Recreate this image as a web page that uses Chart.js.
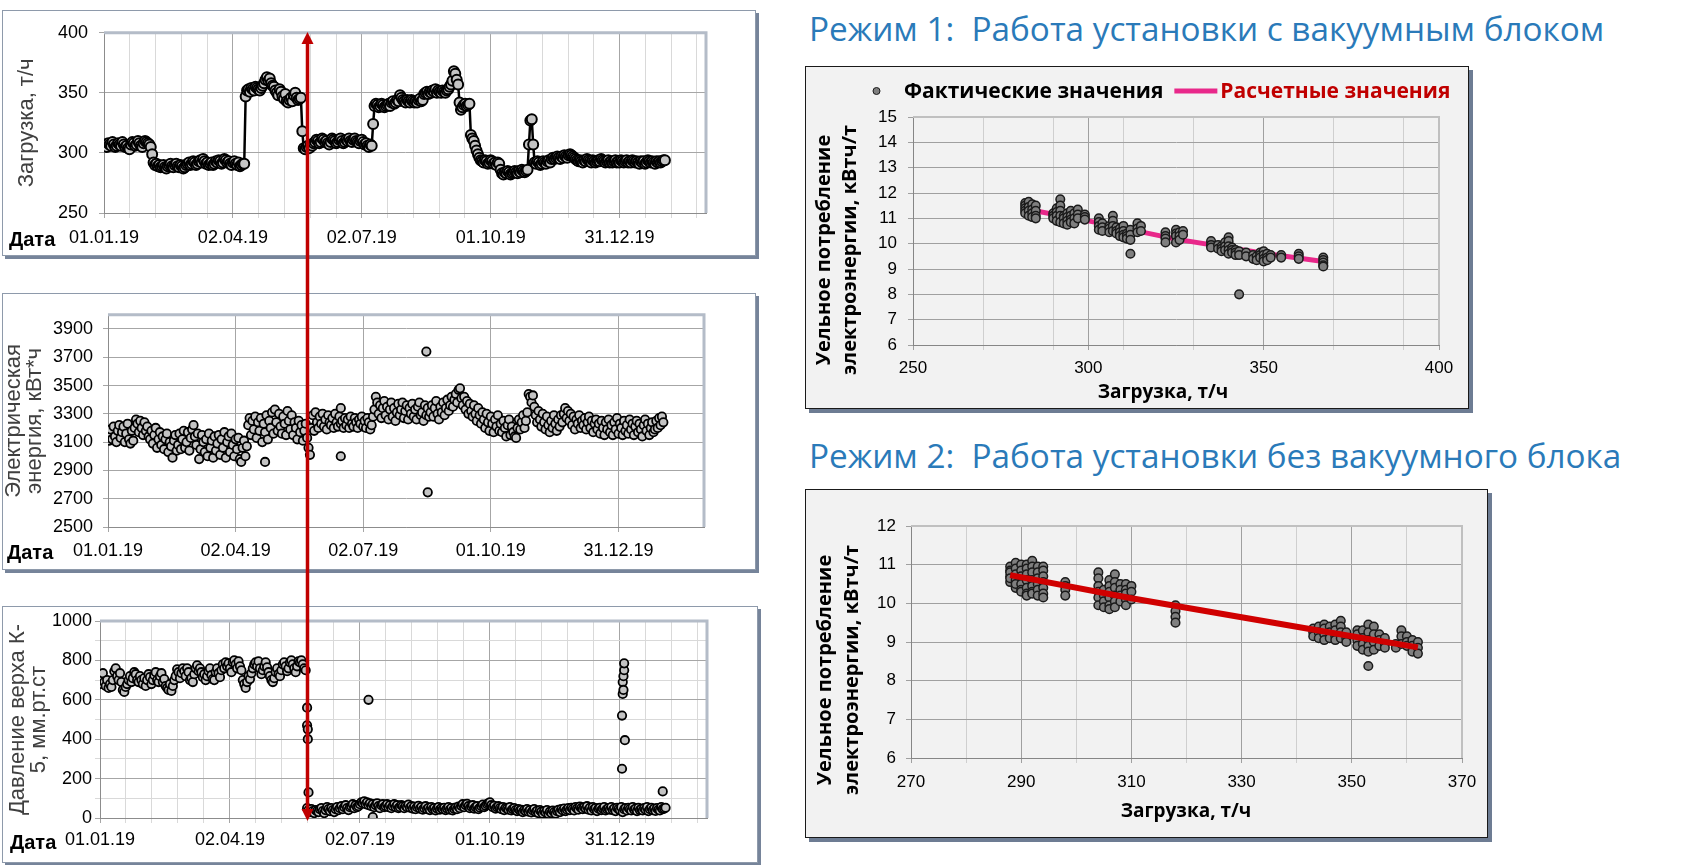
<!DOCTYPE html>
<html>
<head>
<meta charset="utf-8">
<script src="https://cdn.jsdelivr.net/npm/chart.js"></script>
<style>
  body { margin: 0; width: 1701px; height: 865px; background: #fff; position: relative; overflow: hidden; }
  .frame { position: absolute; box-sizing: border-box; }
  .frame div { position: relative; width: 100%; height: 100%; }
  .left { background: #fff; border: 1px solid #8e9aab; box-shadow: 3px 3px 0 #76849a; }
  .right { background: #f2f2f2; border: 1px solid #1a1a1a; box-shadow: 4px 4px 0 #6d7c93; }
  .title { position: absolute; left: 809px; font: 33.3px "Open Sans", sans-serif; color: #2a7ab9; white-space: pre; line-height: 1; }
  svg { position: absolute; left: 0; top: 0; pointer-events: none; }
</style>
</head>
<body>
<div class="frame left" style="left:2px;top:10px;width:754px;height:246px"><div><canvas id="loadChart"></canvas></div></div>
<div class="frame left" style="left:2px;top:293px;width:754px;height:277px"><div><canvas id="energyChart"></canvas></div></div>
<div class="frame left" style="left:2px;top:606px;width:756px;height:257px"><div><canvas id="pressureChart"></canvas></div></div>

<div class="title" style="top:12px">Режим 1:  Работа установки с вакуумным блоком</div>
<div class="frame right" style="left:805px;top:66px;width:664px;height:343px"><div><canvas id="mode1Chart"></canvas></div></div>
<div class="title" style="top:439px">Режим 2:  Работа установки без вакуумного блока</div>
<div class="frame right" style="left:805px;top:489px;width:683px;height:349px"><div><canvas id="mode2Chart"></canvas></div></div>

<svg width="1701" height="865">
  <line x1="307.5" y1="42" x2="307.5" y2="811" stroke="#c00000" stroke-width="3.5"/>
  <polygon points="301.5,44 313.5,44 307.5,32" fill="#c00000"/>
  <polygon points="301.5,809 313.5,809 307.5,821" fill="#c00000"/>
</svg>

<script>
// daily series start on 01.01.19; x is the day number
const dateTickDays = [0, 91, 182, 273, 364];
const dateTickLabels = ['01.01.19', '02.04.19', '02.07.19', '01.10.19', '31.12.19'];
const dateMax = 425;

// Загрузка, т/ч (one value per day)
const loadValues = [
  306, 307, 305, 308, 307, 306, 309, 307, 305, 306,
  308, 307, 306, 309, 307, 305, 306, 304, 303, 307,
  309, 308, 306, 307, 310, 308, 306, 305, 308, 310,
  309, 308, 307, 305, 299, 292, 290, 291, 289, 290,
  288, 289, 290, 288, 287, 289, 290, 291, 289, 288,
  290, 291, 289, 288, 290, 289, 287, 288, 290, 291,
  292, 290, 291, 293, 292, 290, 291, 293, 294, 292,
  295, 293, 291, 292, 290, 291, 292, 290, 291, 293,
  292, 294, 293, 291, 292, 295, 294, 292, 293, 291,
  290, 292, 293, 291, 290, 292, 289, 290, 291, 291,
  347, 352, 353, 351, 354, 353, 352, 355, 354, 353,
  352, 354, 356, 358, 361, 363, 360, 362, 358, 356,
  355, 352, 350, 348, 353, 351, 347, 345, 349, 343,
  342, 344, 346, 343, 348, 350, 346, 344, 345, 346,
  318, 304, 303, 305, 306, 304, 307, 306, 308, 309,
  311, 310, 308, 309, 312, 311, 309, 310, 308, 307,
  309, 312, 311, 310, 308, 309, 311, 312, 310, 308,
  309, 311, 310, 312, 310, 309, 311, 312, 310, 309,
  308, 310, 311, 309, 307, 308, 306, 305, 307, 306,
  324, 339, 341, 340, 338, 339, 341, 340, 338, 339,
  340, 341, 339, 342, 343, 341, 342, 344, 343, 348,
  346, 344, 343, 342, 344, 343, 342, 344, 343, 342,
  343, 342, 344, 345, 343, 344, 349, 350, 351, 349,
  351, 350, 352, 351, 353, 350, 352, 351, 350, 352,
  351, 350, 352, 353, 355, 357, 360, 368, 366, 361,
  357, 342, 336, 338, 340, 341, 339, 340, 341, 315,
  312, 310, 306, 302, 299, 296, 294, 293, 292, 294,
  293, 291, 292, 294, 293, 291, 292, 290, 292, 291,
  286, 283, 282, 284, 283, 285, 284, 282, 283, 284,
  285, 284, 283, 285, 284, 286, 285, 284, 285, 286,
  307, 327, 328, 307, 292, 291, 293, 292, 290, 291,
  293, 292, 291, 293, 294, 292, 295, 296, 295, 296,
  297, 296, 295, 297, 296, 298, 297, 296, 298, 299,
  298, 297, 296, 295, 294, 293, 294, 293, 292, 294,
  293, 295, 294, 293, 292, 294, 293, 292, 293, 294,
  293, 295, 294, 293, 292, 293, 294, 292, 293, 292,
  293, 294, 292, 293, 292, 294, 293, 292, 293, 294,
  292, 293, 292, 294, 293, 292, 293, 292, 291, 293,
  292, 293, 291, 292, 294, 293, 292, 293, 292, 291,
  293, 292, 293, 292, 293, 294, 294
];

// Электрическая энергия, кВт*ч (one value per day) and the stray readings
const energyValues = [
  3150, 3110, 3190, 3120, 3210, 3140, 3100, 3180, 3220, 3130,
  3170, 3210, 3100, 3160, 3230, 3120, 3090, 3180, 3110, 3200,
  3260, 3230, 3170, 3250, 3200, 3150, 3240, 3180, 3210, 3140,
  3120, 3180, 3090, 3150, 3200, 3060, 3120, 3170, 3080, 3140,
  3050, 3120, 3160, 3030, 3100, 3070, 2990, 3110, 3150, 3040,
  3080, 3160, 3050, 3120, 3180, 3060, 3100, 3170, 3040, 3130,
  3190, 3220, 3140, 3080, 3160, 2980, 3050, 3150, 3100, 3030,
  3120, 3000, 3160, 3060, 3110, 2990, 3140, 3040, 3090, 3150,
  3010, 3120, 3060, 3170, 2990, 3100, 3140, 3030, 3160, 3080,
  3000, 3120, 3050, 3130, 2980, 2960, 3060, 3110, 3000, 3070,
  3220, 3270, 3150, 3250, 3190, 3280, 3130, 3240, 3180, 3270,
  3100, 3230, 3170, 3290, 3120, 3250, 3200, 3310, 3160, 3330,
  3240, 3180, 3300, 3210, 3160, 3280, 3230, 3150, 3320, 3250,
  3190, 3290, 3150, 3240, 3200, 3120, 3250, 3170, 3220, 3110,
  3180, 3230, 3130, 3060, 3010, 3200, 3290, 3180, 3310, 3240,
  3200, 3280, 3230, 3300, 3210, 3260, 3190, 3290, 3240, 3220,
  3270, 3200, 3300, 3240, 3210, 3280, 3230, 3250, 3200, 3270,
  3220, 3260, 3200, 3280, 3230, 3210, 3270, 3240, 3200, 3260,
  3230, 3280, 3210, 3250, 3200, 3270, 3240, 3190, 3220, 3280,
  3330, 3420, 3380, 3300, 3360, 3270, 3340, 3390, 3290, 3350,
  3260, 3330, 3380, 3280, 3340, 3250, 3310, 3370, 3290, 3330,
  3380, 3270, 3320, 3360, 3260, 3340, 3300, 3370, 3280, 3330,
  3260, 3350, 3380, 3290, 3310, 3250, 3360, 3290, 3340, 3280,
  3310, 3360, 3280, 3340, 3390, 3300, 3260, 3350, 3310, 3380,
  3290, 3340, 3400, 3320, 3360, 3420, 3350, 3400, 3440, 3380,
  3470, 3480, 3410, 3360, 3420, 3330, 3390, 3300, 3370, 3320,
  3280, 3360, 3300, 3250, 3340, 3290, 3230, 3310, 3260, 3200,
  3300, 3240, 3180, 3280, 3230, 3170, 3260, 3210, 3290, 3180,
  3230, 3170, 3250, 3200, 3140, 3220, 3260, 3150, 3210, 3170,
  3140, 3130, 3200, 3260, 3190, 3240, 3290, 3200, 3250, 3310,
  3440, 3420, 3380, 3430, 3350, 3290, 3240, 3320, 3260, 3210,
  3300, 3240, 3190, 3280, 3220, 3170, 3250, 3200, 3290, 3230,
  3180, 3260, 3210, 3290, 3240, 3300, 3340, 3270, 3320, 3250,
  3300, 3220, 3280, 3190, 3260, 3230, 3290, 3200, 3250, 3220,
  3270, 3190, 3240, 3280, 3200, 3250, 3170, 3230, 3260, 3190,
  3230, 3160, 3250, 3200, 3150, 3240, 3190, 3260, 3170, 3220,
  3150, 3240, 3190, 3270, 3160, 3230, 3200, 3150, 3250, 3180,
  3220, 3160, 3260, 3190, 3230, 3150, 3210, 3250, 3170, 3230,
  3190, 3140, 3220, 3260, 3180, 3230, 3150, 3200, 3240, 3170,
  3190, 3250, 3200, 3270, 3220, 3280, 3240
];
const energyExtraDays = [112, 166, 166, 227, 228];
const energyExtraValues = [2960, 3340, 3000, 3740, 2745];

// Давление верха К-5, мм.рт.ст (one value per day) and the stray readings
const pressureValues = [
  680, 720, 735, 690, 670, 700, 660, 680, 665, 700,
  745, 760, 720, 700, 735, 690, 650, 640, 665, 680,
  700, 720, 690, 710, 740, 730, 700, 690, 720, 700,
  680, 710, 670, 700, 730, 715, 680, 700, 725, 740,
  700, 690, 720, 735, 690, 705, 670, 660, 650, 680,
  645, 670, 700, 720, 755, 740, 710, 735, 760, 745,
  720, 760, 740, 700, 710, 690, 730, 760, 775, 745,
  760, 740, 715, 730, 700, 720, 745, 760, 725, 705,
  700, 740, 760, 735, 715, 750, 780, 760, 790, 770,
  785, 760, 740, 790, 800, 780, 760, 795, 770, 750,
  700, 680, 660, 690, 720, 705, 735, 760, 780, 790,
  770, 795, 760, 730, 750, 770, 790, 765, 740, 720,
  700, 690, 710, 740, 760, 730, 720, 750, 780, 790,
  770, 745, 760, 790, 800, 780, 760, 740, 770, 795,
  790, 800, 780, 760, 750, 50, 40, 30, 45, 35,
  25, 40, 35, 30, 45, 50, 35, 25, 40, 55,
  45, 35, 50, 40, 30, 45, 55, 40, 50, 60,
  45, 55, 65, 50, 40, 55, 60, 70, 50, 65,
  55, 60, 70, 80, 75, 85, 70, 80, 65, 75,
  60, 70, 55, 65, 75, 60, 50, 65, 70, 55,
  60, 70, 55, 65, 50, 60, 70, 55, 65, 50,
  55, 65, 60, 50, 62, 55, 68, 52, 60, 48,
  58, 45, 55, 62, 48, 56, 42, 50, 60, 45,
  52, 40, 55, 45, 50, 38, 48, 55, 42, 50,
  45, 52, 40, 48, 55, 42, 50, 38, 46, 53,
  45, 58, 50, 62, 70, 55, 65, 72, 60, 50,
  58, 65, 48, 55, 60, 45, 52, 60, 68, 55,
  62, 70, 75, 80, 65, 55, 62, 48, 55, 60,
  50, 45, 55, 40, 52, 48, 42, 55, 38, 45,
  50, 40, 35, 45, 38, 42, 30, 40, 35, 45,
  32, 40, 28, 38, 45, 30, 36, 25, 40, 32,
  22, 35, 28, 40, 20, 32, 25, 38, 30, 22,
  35, 42, 30, 45, 38, 48, 35, 42, 50, 40,
  52, 45, 38, 55, 48, 42, 58, 50, 45, 55,
  48, 60, 42, 52, 38, 55, 45, 50, 35, 48,
  52, 40, 48, 55, 38, 45, 50, 42, 55, 40,
  48, 35, 52, 45, 40, 55, 30, 45, 50, 38,
  52, 45, 38, 55, 42, 48, 35, 52, 40, 46,
  38, 50, 42, 55, 35, 45, 52, 40, 48, 36,
  50, 42, 38, 55, 45, 48, 52
];
const pressureExtraDays = [145, 145, 145.5, 145.5, 146, 188, 191,
  365.5, 365.5, 366, 366, 366.5, 366.5, 367, 367, 367.5, 394];
const pressureExtraValues = [560, 470, 450, 400, 130, 600, 5,
  250, 520, 630, 690, 650, 720, 750, 785, 395, 135];

// Режим 1: загрузка, т/ч -> удельное потребление, кВтч/т
const mode1Load = [
  282, 282, 282, 282, 282,
  283, 283, 283, 283,
  284, 284, 284, 284,
  285, 285, 285, 285,
  290, 290, 290,
  291, 291, 291, 291,
  292, 292, 292, 292, 292,
  293, 293, 293,
  294, 294, 294, 294,
  295, 295, 295, 295,
  296, 296, 296,
  297, 297, 297,
  299, 299, 299,
  303, 303, 303, 303,
  304, 304, 304,
  306, 306, 306,
  307, 307, 307, 307,
  308, 308, 308,
  309, 309, 309,
  310, 310, 310, 310,
  311, 311, 311,
  312, 312, 312, 312,
  314, 314, 314,
  315, 315,
  322, 322, 322, 322,
  325, 325, 325, 325,
  326, 326, 326,
  327, 327,
  335, 335, 335,
  337, 337,
  338, 338, 338,
  339, 339, 339,
  340, 340, 340, 340, 340,
  341, 341, 341,
  342, 342, 342,
  343, 343, 343,
  345, 345,
  347, 347,
  348, 348,
  349, 349, 349,
  350, 350, 350, 350,
  351, 351, 351,
  352, 352,
  355, 355,
  360, 360, 360,
  367, 367, 367, 367, 367
];
const mode1Specific = [
  11.6, 11.5, 11.4, 11.3, 11.2,
  11.65, 11.45, 11.3, 11.1,
  11.55, 11.35, 11.2, 11.05,
  11.5, 11.3, 11.1, 11.0,
  11.2, 11.1, 11.0,
  11.4, 11.25, 11.1, 10.9,
  11.75, 11.5, 11.3, 11.1, 10.85,
  11.1, 11.0, 10.8,
  11.2, 11.05, 10.9, 10.75,
  11.3, 11.1, 10.95, 10.85,
  11.2, 11.0, 10.8,
  11.35, 11.15, 11.0,
  11.15, 11.05, 10.95,
  11.0, 10.85, 10.7, 10.55,
  10.8, 10.65, 10.5,
  10.7, 10.6, 10.45,
  11.1, 10.9, 10.7, 10.5,
  10.65, 10.5, 10.4,
  10.6, 10.45, 10.3,
  10.7, 10.5, 10.35, 10.25,
  10.4, 10.3, 10.2,
  10.55, 10.35, 10.15, 9.6,
  10.8, 10.6, 10.45,
  10.7, 10.5,
  10.45, 10.3, 10.2, 10.05,
  10.55, 10.4, 10.3, 10.05,
  10.45, 10.3, 10.15,
  10.5, 10.35,
  10.1, 9.95, 9.85,
  9.95, 9.8,
  9.9, 9.8, 9.7,
  10.05, 9.9, 9.75,
  10.25, 10.1, 9.9, 9.75, 9.6,
  9.85, 9.75, 9.65,
  9.75, 9.65, 9.55,
  9.7, 9.55, 8.0,
  9.65, 9.5,
  9.55, 9.4,
  9.5, 9.35,
  9.65, 9.55, 9.45,
  9.7, 9.55, 9.4, 9.3,
  9.6, 9.45, 9.35,
  9.55, 9.45,
  9.55, 9.45,
  9.6, 9.5, 9.4,
  9.45, 9.35, 9.25, 9.15, 9.1
];
const mode1FitLoad = [284, 300, 325, 350, 367];
const mode1FitValues = [11.32, 10.9, 10.18, 9.62, 9.3];

// Режим 2
const mode2Load = [
  288, 288, 288, 288, 288, 288,
  289, 289, 289, 289, 289, 289,
  290, 290, 290, 290, 290, 290,
  291, 291, 291, 291, 291, 291, 291,
  292, 292, 292, 292, 292, 292, 292,
  293, 293, 293, 293, 293, 293,
  294, 294, 294, 294, 294, 294, 294,
  298, 298, 298, 298,
  304, 304, 304, 304, 304, 304,
  305, 305, 305, 305,
  306, 306, 306, 306, 306, 306,
  307, 307, 307, 307, 307, 307,
  308, 308, 308, 308,
  309, 309, 309, 309, 309,
  310, 310, 310,
  318, 318, 318, 318,
  343, 343, 343,
  344, 344, 344,
  345, 345, 345, 345,
  346, 346, 346,
  347, 347, 347, 347,
  348, 348, 348, 348,
  349, 349, 349,
  351, 351, 351, 351,
  352, 352, 352, 352,
  353, 353, 353, 353, 353, 353,
  354, 354, 354, 354,
  355, 355, 355,
  356, 356, 356,
  358, 358,
  359, 359, 359,
  360, 360, 360,
  361, 361, 361,
  362, 362, 362
];
const mode2Specific = [
  10.95, 10.85, 10.7, 10.55, 10.8, 10.65,
  11.05, 10.9, 10.75, 10.6, 10.4, 10.5,
  11.0, 10.85, 10.7, 10.5, 10.35, 10.3,
  11.0, 10.9, 10.75, 10.6, 10.4, 10.25, 10.2,
  11.1, 10.95, 10.8, 10.6, 10.45, 10.3, 10.25,
  10.95, 10.8, 10.65, 10.5, 10.35, 10.2,
  10.95, 10.85, 10.7, 10.55, 10.4, 10.25, 10.15,
  10.55, 10.45, 10.35, 10.2,
  10.8, 10.65, 10.45, 10.3, 10.15, 9.95,
  10.35, 10.2, 10.05, 9.9,
  10.6, 10.45, 10.3, 10.15, 9.95, 9.85,
  10.75, 10.55, 10.4, 10.2, 10.05, 9.9,
  10.5, 10.35, 10.2, 10.05,
  10.5, 10.35, 10.25, 10.1, 9.95,
  10.45, 10.3, 10.1,
  9.95, 9.8, 9.65, 9.5,
  9.35, 9.25, 9.15,
  9.4, 9.25, 9.1,
  9.45, 9.35, 9.2, 9.05,
  9.4, 9.25, 9.1,
  9.45, 9.3, 9.15, 9.05,
  9.55, 9.4, 9.25, 9.1,
  9.25, 9.1, 9.0,
  9.3, 9.2, 9.05, 8.9,
  9.3, 9.1, 8.95, 8.8,
  9.45, 9.25, 9.05, 8.9, 8.75, 8.38,
  9.4, 9.2, 9.0, 8.8,
  9.2, 9.05, 8.9,
  9.1, 8.95, 8.85,
  8.95, 8.85,
  9.3, 9.15, 8.95,
  9.15, 9.0, 8.9,
  9.05, 8.9, 8.75,
  9.0, 8.85, 8.7
];
const mode2FitLoad = [288, 310, 330, 350, 362];
const mode2FitValues = [10.73, 10.13, 9.64, 9.15, 8.86];

// axis tick values
const loadTicks = [250, 300, 350, 400];
const energyTicks = [2500, 2700, 2900, 3100, 3300, 3500, 3700, 3900];
const pressureTicks = [0, 200, 400, 600, 800, 1000];
const mode1LoadTicks = [250, 300, 350, 400];
const mode1SpecificTicks = [6, 7, 8, 9, 10, 11, 12, 13, 14, 15];
const mode2LoadTicks = [270, 290, 310, 330, 350, 370];
const mode2SpecificTicks = [6, 7, 8, 9, 10, 11, 12];

const SANS = '"Liberation Sans", Arial, sans-serif';
const OPEN = '"Open Sans", sans-serif';
Chart.defaults.font.family = SANS;
Chart.defaults.animation = false;

const xy = (xs, ys) => xs.map((x, i) => ({ x, y: ys[i] }));
const daily = ys => ys.map((y, d) => ({ x: d, y }));
const steps = (from, to, step) => {
  const out = [];
  for (let v = from; v <= to + 1e-9; v += step) out.push(Math.round(v * 10) / 10);
  return out;
};

// plot frame, free texts and a hand-laid legend
const decor = {
  id: 'decor',
  beforeDatasetsDraw(chart, args, o) {
    const a = chart.chartArea, ctx = chart.ctx;
    ctx.save();
    ctx.strokeStyle = o.frameColor;
    ctx.lineWidth = o.frameWidth;
    ctx.beginPath();
    ctx.moveTo(a.left, a.top);
    ctx.lineTo(a.right, a.top);
    ctx.lineTo(a.right, a.bottom);
    ctx.stroke();
    ctx.restore();
  },
  afterDraw(chart, args, o) {
    const ctx = chart.ctx;
    ctx.save();
    ctx.textBaseline = 'middle';
    (o.texts || []).forEach(t => {
      ctx.save();
      ctx.font = t.font;
      ctx.fillStyle = t.color;
      ctx.textAlign = t.align || 'left';
      ctx.translate(t.x, t.y);
      if (t.rotate) ctx.rotate(t.rotate);
      ctx.fillText(t.text, 0, 0);
      ctx.restore();
    });
    if (o.legend) {
      const L = o.legend;
      let x = L.x;
      ctx.font = L.font;
      chart.data.datasets.forEach((ds, i) => {
        if (ds.showLine) {
          ctx.strokeStyle = ds.borderColor;
          ctx.lineWidth = 5;
          ctx.beginPath();
          ctx.moveTo(x, L.y);
          ctx.lineTo(x + 43, L.y);
          ctx.stroke();
          x += 46;
        } else {
          ctx.fillStyle = ds.pointBackgroundColor;
          ctx.strokeStyle = ds.pointBorderColor;
          ctx.lineWidth = 1;
          ctx.beginPath();
          ctx.arc(x + 1.5, L.y, 3.5, 0, Math.PI * 2);
          ctx.fill();
          ctx.stroke();
          x += 29;
        }
        ctx.fillStyle = L.colors[i];
        ctx.fillText(ds.label, x, L.y + 1);
        x += ctx.measureText(ds.label).width + 11;
      });
    }
    ctx.restore();
  }
};

function dateAxis(withMinor, height, pad) {
  const minor = steps(0, dateMax, 18.2);
  return {
    type: 'linear', min: 0, max: dateMax,
    afterBuildTicks: s => { s.ticks = (withMinor ? minor : dateTickDays).map(v => ({ value: v })); },
    afterFit: s => { s.height = height; },
    ticks: {
      autoSkip: false, maxRotation: 0, padding: pad, color: '#000',
      font: { size: 18 },
      callback: v => { const i = dateTickDays.indexOf(v); return i < 0 ? '' : dateTickLabels[i]; }
    },
    grid: { color: c => dateTickDays.includes(c.tick.value) ? '#a6a6a6' : '#d9d9d9', tickLength: 5 },
    border: { color: '#8c8c8c' }
  };
}

function valueAxis(o) {
  return {
    type: 'linear', min: o.min, max: o.max,
    afterBuildTicks: s => { s.ticks = o.grid.map(v => ({ value: v })); },
    afterFit: s => { s.width = o.width; },
    ticks: {
      autoSkip: false, padding: o.pad, color: '#000',
      font: { size: o.size || 18, family: SANS },
      callback: v => o.labels.includes(v) ? String(v) : ''
    },
    grid: { color: c => o.labels.includes(c.tick.value) ? o.major : o.minor, tickLength: 5 },
    border: { color: o.axisColor || '#8c8c8c' },
    title: {
      display: !!o.title, text: o.title, color: o.titleColor,
      font: o.titleFont, padding: { top: o.titlePad || 0, bottom: 0 }
    }
  };
}

const leftTitleFont = { size: 22, family: SANS, lineHeight: 0.93 };
const dotStyle = { pointRadius: 4.2, pointBackgroundColor: '#c4c4c4', pointBorderColor: '#000', pointBorderWidth: 1.8 };
const dataLabel = (x, y) => ({ text: 'Дата', x, y, font: 'bold 20px ' + SANS, color: '#000' });

// Загрузка по датам
new Chart(document.getElementById('loadChart'), {
  type: 'scatter',
  data: {
    datasets: [{
      data: daily(loadValues),
      showLine: true, borderColor: '#000', borderWidth: 2.5,
      pointRadius: 5, pointBackgroundColor: '#c4c4c4', pointBorderColor: '#000', pointBorderWidth: 2
    }]
  },
  options: {
    responsive: true, maintainAspectRatio: false,
    layout: { padding: { top: 14, right: 49, left: 0, bottom: 0 } },
    scales: {
      x: dateAxis(true, 42, 9),
      y: valueAxis({ min: 250, max: 400, grid: loadTicks, labels: loadTicks, width: 101, pad: 11,
        major: '#a6a6a6', minor: '#a6a6a6', title: 'Загрузка, т/ч', titleColor: '#404040',
        titleFont: leftTitleFont, titlePad: 14 })
    },
    plugins: {
      legend: { display: false }, tooltip: { enabled: false },
      decor: { frameColor: '#b4bcc8', frameWidth: 3, texts: [dataLabel(6, 229)] }
    }
  },
  plugins: [decor]
});

// Электрическая энергия
new Chart(document.getElementById('energyChart'), {
  type: 'scatter',
  data: {
    datasets: [
      Object.assign({ data: daily(energyValues).concat(xy(energyExtraDays, energyExtraValues)) }, dotStyle)
    ]
  },
  options: {
    responsive: true, maintainAspectRatio: false,
    layout: { padding: { top: 19, right: 51, left: 0, bottom: 0 } },
    scales: {
      x: dateAxis(false, 42, 8),
      y: valueAxis({ min: 2500, max: 4000, grid: energyTicks, labels: energyTicks, width: 105, pad: 10,
        major: '#a6a6a6', minor: '#a6a6a6', title: ['Электрическая', 'энергия, кВт*ч'], titleColor: '#404040',
        titleFont: leftTitleFont, titlePad: 1 })
    },
    plugins: {
      legend: { display: false }, tooltip: { enabled: false },
      decor: { frameColor: '#b4bcc8', frameWidth: 3, texts: [dataLabel(4, 259)] }
    }
  },
  plugins: [decor]
});

// Давление верха К-5
new Chart(document.getElementById('pressureChart'), {
  type: 'scatter',
  data: {
    datasets: [
      Object.assign({ data: daily(pressureValues).concat(xy(pressureExtraDays, pressureExtraValues)) }, dotStyle)
    ]
  },
  options: {
    responsive: true, maintainAspectRatio: false,
    layout: { padding: { top: 14, right: 50, left: 0, bottom: 0 } },
    scales: {
      x: dateAxis(true, 44, 6),
      y: valueAxis({ min: 0, max: 1000, grid: steps(0, 1000, 100), labels: pressureTicks, width: 97, pad: 3,
        major: '#a6a6a6', minor: '#d9d9d9', title: ['Давление верха К-', '5, мм.рт.ст'], titleColor: '#404040',
        titleFont: leftTitleFont, titlePad: 5 })
    },
    plugins: {
      legend: { display: false }, tooltip: { enabled: false },
      decor: { frameColor: '#b4bcc8', frameWidth: 3, texts: [dataLabel(7, 236)] }
    }
  },
  plugins: [decor]
});

const grayDots = { pointRadius: 4.3, pointBackgroundColor: '#7f7f7f', pointBorderColor: '#1a1a1a', pointBorderWidth: 1.5 };
const boldTitle = size => 'bold ' + size + 'px ' + OPEN;
const rightTexts = (cy, l1, l2, tx, ty) => [
  { text: 'Уельное потребление', x: l1, y: cy, font: boldTitle(20), color: '#000', align: 'center', rotate: -Math.PI / 2 },
  { text: 'электроэнергии, кВтч/т', x: l2, y: cy, font: boldTitle(20), color: '#000', align: 'center', rotate: -Math.PI / 2 },
  { text: 'Загрузка, т/ч', x: tx, y: ty, font: boldTitle(19), color: '#000', align: 'center' }
];

// Режим 1
new Chart(document.getElementById('mode1Chart'), {
  type: 'scatter',
  data: {
    datasets: [
      Object.assign({ label: 'Фактические значения', data: xy(mode1Load, mode1Specific) }, grayDots),
      { label: 'Расчетные значения', data: xy(mode1FitLoad, mode1FitValues), showLine: true,
        borderColor: '#e8288a', borderWidth: 5, pointRadius: 0 }
    ]
  },
  options: {
    responsive: true, maintainAspectRatio: false,
    layout: { padding: { top: 50, right: 29, left: 0, bottom: 0 } },
    scales: {
      x: {
        type: 'linear', min: 250, max: 400,
        afterBuildTicks: s => { s.ticks = [250, 270, 290, 300, 310, 330, 350, 370, 390, 400].map(v => ({ value: v })); },
        afterFit: s => { s.height = 63; },
        ticks: { autoSkip: false, maxRotation: 0, padding: 8, color: '#000', font: { size: 17 },
          callback: v => mode1LoadTicks.includes(v) ? String(v) : '' },
        grid: { color: c => mode1LoadTicks.includes(c.tick.value) ? '#a0a0a0' : '#cfcfcf', tickLength: 5 },
        border: { color: '#868686' }
      },
      y: valueAxis({ min: 6, max: 15, grid: mode1SpecificTicks, labels: mode1SpecificTicks, width: 107, pad: 11,
        size: 17, major: '#a0a0a0', minor: '#a0a0a0', axisColor: '#868686' })
    },
    plugins: {
      legend: { display: false }, tooltip: { enabled: false },
      decor: { frameColor: '#c0c0c0', frameWidth: 2,
        texts: rightTexts(183, 18, 44, 357, 326),
        legend: { x: 69, y: 24, font: boldTitle(21), colors: ['#000', '#c00000'] } }
    }
  },
  plugins: [decor]
});

// Режим 2
new Chart(document.getElementById('mode2Chart'), {
  type: 'scatter',
  data: {
    datasets: [
      { label: 'Расчетные значения', data: xy(mode2FitLoad, mode2FitValues), showLine: true,
        borderColor: '#d00000', borderWidth: 6, pointRadius: 0 },
      Object.assign({ label: 'Фактические значения', data: xy(mode2Load, mode2Specific) }, grayDots)
    ]
  },
  options: {
    responsive: true, maintainAspectRatio: false,
    layout: { padding: { top: 36, right: 25, left: 0, bottom: 0 } },
    scales: {
      x: {
        type: 'linear', min: 270, max: 370,
        afterBuildTicks: s => { s.ticks = steps(270, 370, 10).map(v => ({ value: v })); },
        afterFit: s => { s.height = 79; },
        ticks: { autoSkip: false, maxRotation: 0, padding: 9, color: '#000', font: { size: 17 },
          callback: v => mode2LoadTicks.includes(v) ? String(v) : '' },
        grid: { color: c => mode2LoadTicks.includes(c.tick.value) ? '#a0a0a0' : '#cfcfcf', tickLength: 5 },
        border: { color: '#868686' }
      },
      y: valueAxis({ min: 6, max: 12, grid: mode2SpecificTicks, labels: mode2SpecificTicks, width: 105, pad: 10,
        size: 17, major: '#a0a0a0', minor: '#a0a0a0', axisColor: '#868686' })
    },
    plugins: {
      legend: { display: false }, tooltip: { enabled: false },
      decor: { frameColor: '#c0c0c0', frameWidth: 2,
        texts: rightTexts(180, 19, 46, 380, 322) }
    }
  },
  plugins: [decor]
});
</script>
</body>
</html>
